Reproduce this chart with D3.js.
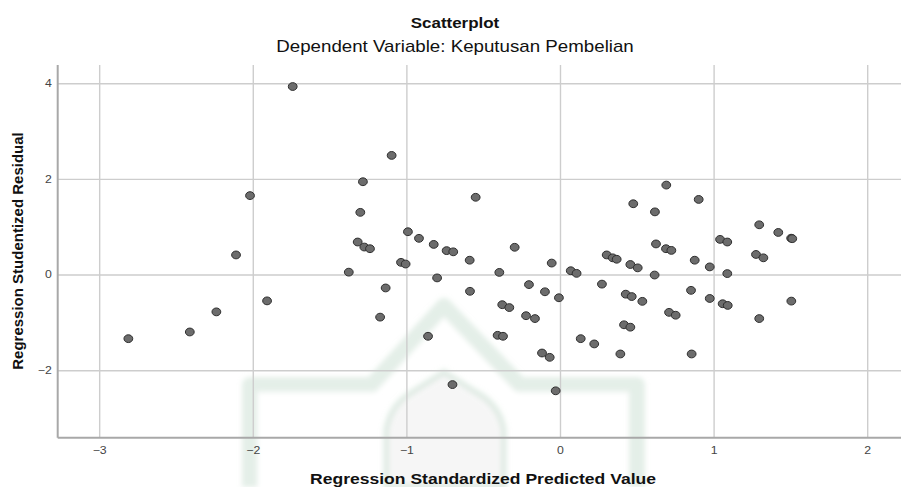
<!DOCTYPE html>
<html>
<head>
<meta charset="utf-8">
<script src="https://cdn.jsdelivr.net/npm/d3@7/dist/d3.min.js"></script>
<style>
  html, body { margin: 0; padding: 0; background: #fff; }
  svg { display: block; font-family: Arial, "Liberation Sans", sans-serif; }
</style>
</head>
<body>
<svg id="chart" width="901" height="487"></svg>
<script>
// Regression standardized predicted values (x) and studentized residuals (y)
const predicted = [
  -1.740, -1.096, -1.283, -2.018, -1.300, -2.109, -1.317, -1.274, -1.237, -0.990,
  -0.918, -0.822, -0.738, -0.695, -1.375, -1.035, -1.005, -0.800, -1.135, -1.907,
  -2.237, -1.171, -2.410, -2.810, -0.859, -0.700, -0.549, -0.295, -0.588, -0.395,
  -0.054,  0.070,  0.108,  0.692,  0.903,  0.477,  0.618,  1.297,  1.421,  1.505,
   1.512,  1.042,  1.089,  0.625,  0.690,  0.725,  1.276,  1.324,  0.304,  0.343,
   0.369,  0.458,  0.506,  0.877,  0.975,  0.616,  1.089, -0.586, -0.202, -0.098,
  -0.007,  0.273,  0.428,  0.467,  0.536,  0.853,  0.975,  1.059,  1.092,  1.506,
   1.297, -0.376, -0.330, -0.221, -0.163,  0.710,  0.753,  0.417,  0.458, -0.406,
  -0.371,  0.135,  0.223, -0.117, -0.067,  0.393,  0.857, -0.028
];
const residual = [
   3.93,  2.49,  1.94,  1.65,  1.30,  0.41,  0.68,  0.575, 0.54,  0.895,
   0.757, 0.63,  0.50,  0.475, 0.05,  0.255, 0.22, -0.07, -0.28, -0.55,
  -0.78, -0.89, -1.20, -1.34, -1.29, -2.30,  1.615, 0.57,  0.30,  0.045,
   0.24,  0.08,  0.025, 1.87,  1.57,  1.48,  1.31,  1.04,  0.88,  0.76,
   0.75,  0.735, 0.68,  0.64,  0.54,  0.505, 0.42,  0.35,  0.41,  0.35,
   0.32,  0.21,  0.14,  0.30,  0.16, -0.01,  0.02, -0.35, -0.21, -0.36,
  -0.485, -0.20, -0.41, -0.46, -0.56, -0.33, -0.50, -0.61, -0.645, -0.555,
  -0.92, -0.63, -0.69, -0.86, -0.92, -0.79, -0.85, -1.05, -1.10, -1.27,
  -1.29, -1.34, -1.45, -1.64, -1.73, -1.66, -1.66, -2.43
];
const xTicks = [-3, -2, -1, 0, 1, 2];
const yTicks = [-2, 0, 2, 4];

const titleText = "Scatterplot";
const subtitleText = "Dependent Variable: Keputusan Pembelian";
const xLabel = "Regression Standardized Predicted Value";
const yLabel = "Regression Studentized Residual";

const svg = d3.select("#chart");
const W = 901, H = 487;
const m = { left: 57.7, right: 0, top: 65, bottom: 49.3 };
const plotW = W - m.left - m.right;
const plotH = H - m.top - m.bottom;
const stretch = 1.17; // the whole figure is laid out slightly wide

const x = d3.scaleLinear().domain([-3.27, 2.22]).range([0, plotW]);
const y = d3.scaleLinear().domain([-3.41, 4.38]).range([plotH, 0]);

// faint logo watermark behind the plot
const defs = svg.append("defs");
defs.append("filter").attr("id", "soft")
  .append("feGaussianBlur").attr("stdDeviation", 2.4);

const wm = svg.append("g").attr("filter", "url(#soft)");
wm.append("path")
  .attr("d", "M250,487 L250,385 L372,385 L444,306 L520,385 L637,385 L637,487")
  .attr("fill", "none")
  .attr("stroke", "rgba(185,212,195,0.38)")
  .attr("stroke-width", 16)
  .attr("stroke-linejoin", "round");
wm.append("path")
  .attr("d", "M258,487 L258,392 L376,392 L444,318 L514,392 L629,392")
  .attr("fill", "none")
  .attr("stroke", "rgba(255,255,255,0.7)")
  .attr("stroke-width", 1.5);
wm.append("path")
  .attr("d", "M386,487 L386,430 Q390,405 412,392 L444,372 L476,392 Q500,405 504,430 L504,487 Z")
  .attr("fill", "rgba(150,150,150,0.09)")
  .attr("stroke", "rgba(185,212,195,0.38)")
  .attr("stroke-width", 6);

const g = svg.append("g").attr("transform", `translate(${m.left},${m.top})`);

// gridlines and tick labels
const xAxis = g.append("g")
  .attr("transform", `translate(0,${plotH})`)
  .call(d3.axisBottom(x).tickValues(xTicks).tickSize(-plotH).tickPadding(9)
        .tickFormat(d3.format("d")));
const yAxis = g.append("g")
  .call(d3.axisLeft(y).tickValues(yTicks).tickSize(-plotW).tickPadding(5)
        .tickFormat(d3.format("d")));

[xAxis, yAxis].forEach(a => {
  a.select(".domain").remove();
  a.selectAll(".tick line").attr("stroke", "#cdcdcd").attr("stroke-width", 1.4);
  a.selectAll(".tick text")
    .attr("fill", "#444")
    .attr("transform", `scale(${stretch},1)`)
    .style("font-size", "10.5px")
    .style("font-family", "Arial, 'Liberation Sans', sans-serif");
});

// axis frame (left and bottom)
g.append("line").attr("x1", 0).attr("x2", 0).attr("y1", 0).attr("y2", plotH)
  .attr("stroke", "#a8a8a8").attr("stroke-width", 2);
g.append("line").attr("x1", 0).attr("x2", plotW).attr("y1", plotH).attr("y2", plotH)
  .attr("stroke", "#a8a8a8").attr("stroke-width", 2);

// points
const pts = predicted.map((v, i) => ({ px: v, py: residual[i] }));
g.append("g").selectAll("ellipse")
  .data(pts)
  .join("ellipse")
  .attr("cx", d => x(d.px))
  .attr("cy", d => y(d.py))
  .attr("rx", 4.4)
  .attr("ry", 3.9)
  .attr("fill", "#6c6c6c")
  .attr("stroke", "#2e2e2e")
  .attr("stroke-width", 1);

// titles
function wideText(cx, cy, size, weight, str) {
  svg.append("text")
    .attr("transform", `translate(${cx},${cy}) scale(${stretch},1)`)
    .attr("text-anchor", "middle")
    .style("font-size", size + "px").style("font-weight", weight)
    .attr("fill", "#111")
    .text(str);
}
wideText(455, 28, 14.5, "bold", titleText);
wideText(455, 52, 16, "normal", subtitleText);
wideText(483, 484, 15, "bold", xLabel);

svg.append("text")
  .attr("transform", "translate(23,251) rotate(-90)")
  .attr("text-anchor", "middle")
  .style("font-size", "15px").style("font-weight", "bold").attr("fill", "#111")
  .text(yLabel);
</script>
</body>
</html>
